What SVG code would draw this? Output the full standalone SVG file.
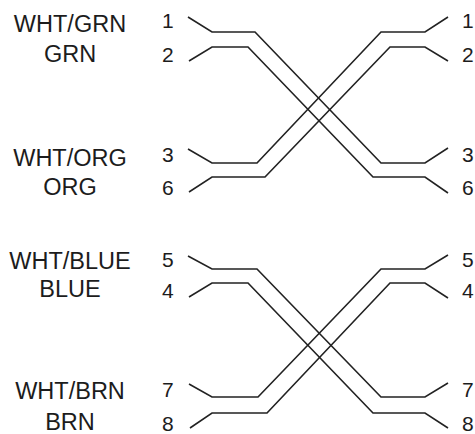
<svg xmlns="http://www.w3.org/2000/svg" width="475" height="434" viewBox="0 0 475 434">
<style>
.lbl{font-family:"Liberation Sans",Arial,Helvetica,sans-serif;font-size:23.5px;fill:#1c1c1c;text-anchor:middle}
.num{font-family:"Liberation Sans",Arial,Helvetica,sans-serif;font-size:21px;fill:#1c1c1c}
.w{fill:none;stroke:#222;stroke-width:1.6;stroke-linejoin:miter}
</style>
<rect width="475" height="434" fill="#fff"/>
<g id="left-connector">
<g id="pair-grn">
<text class="lbl" x="70" y="32">WHT/GRN</text>
<text class="lbl" x="70" y="62">GRN</text>
<text class="num" x="162" y="28">1</text>
<text class="num" x="162" y="62">2</text>
</g>
<g id="pair-org">
<text class="lbl" x="70" y="166">WHT/ORG</text>
<text class="lbl" x="70" y="195">ORG</text>
<text class="num" x="162" y="162">3</text>
<text class="num" x="162" y="195">6</text>
</g>
<g id="pair-blue">
<text class="lbl" x="70" y="269">WHT/BLUE</text>
<text class="lbl" x="70" y="297">BLUE</text>
<text class="num" x="162" y="267">5</text>
<text class="num" x="162" y="298">4</text>
</g>
<g id="pair-brn">
<text class="lbl" x="70" y="399">WHT/BRN</text>
<text class="lbl" x="70" y="430">BRN</text>
<text class="num" x="162" y="397">7</text>
<text class="num" x="162" y="431">8</text>
</g>
</g>
<g id="right-connector">
<text class="num" x="462" y="28">1</text>
<text class="num" x="462" y="62">2</text>
<text class="num" x="462" y="162">3</text>
<text class="num" x="462" y="195">6</text>
<text class="num" x="462" y="267">5</text>
<text class="num" x="462" y="298">4</text>
<text class="num" x="462" y="397">7</text>
<text class="num" x="462" y="431">8</text>
</g>
<g id="wires">
<path class="w" d="M188,17 L212,32 L255,32 L381,163 L425,163 L448,148"/>
<path class="w" d="M189,61 L212,47 L248,47 L373,177 L425,177 L448,193"/>
<path class="w" d="M188,149 L212,163 L257,163 L381,32 L425,32 L448,17"/>
<path class="w" d="M189,192 L212,177 L265,177 L390,47 L425,47 L448,61"/>
<path class="w" d="M188,256 L212,269 L257,269 L381,397 L425,397 L448,383"/>
<path class="w" d="M189,297 L212,283 L248,283 L373,413 L425,413 L448,428"/>
<path class="w" d="M189,384 L212,397 L258,397 L381,269 L425,269 L448,255"/>
<path class="w" d="M190,428 L212,413 L267,413 L390,283 L425,283 L448,298"/>
</g>
</svg>
